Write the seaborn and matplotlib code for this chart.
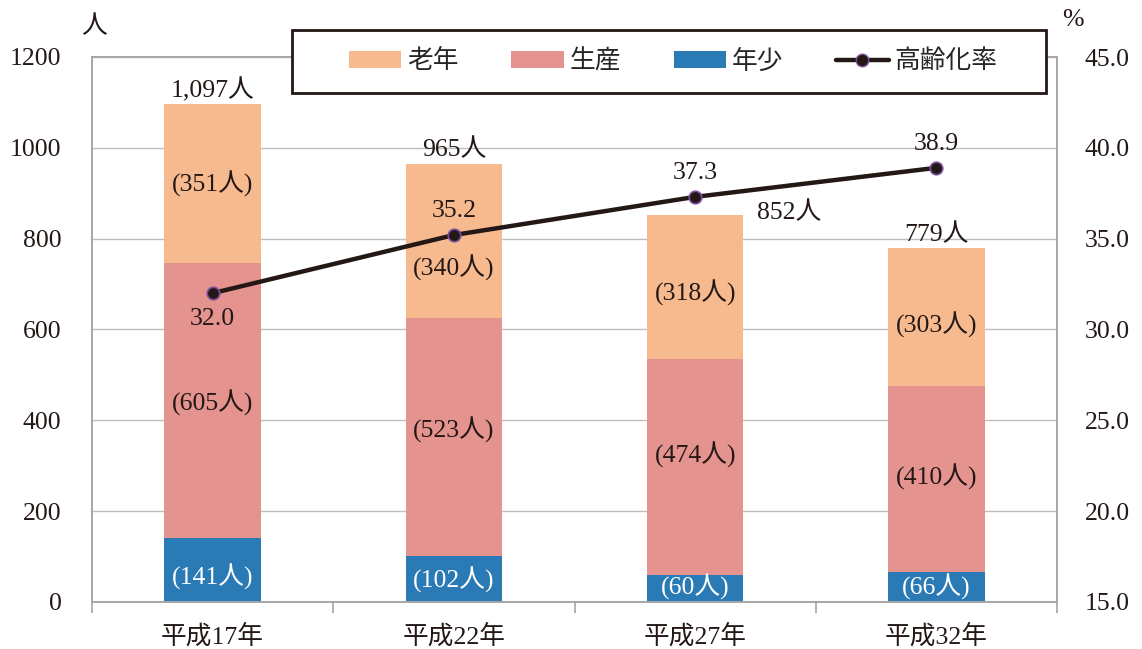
import numpy as np
import pandas as pd
import matplotlib
matplotlib.use("Agg")
import matplotlib.pyplot as plt
from matplotlib.patches import Patch, Rectangle
from matplotlib.lines import Line2D
import seaborn as sns

# Population by age group (persons) and aging rate (%)
years = ["平成17年", "平成22年", "平成27年", "平成32年"]
young = [141, 102, 60, 66]
working = [605, 523, 474, 410]
elderly = [351, 340, 318, 303]
totals = [1097, 965, 852, 779]
aging_rate = [32.0, 35.2, 37.3, 38.9]

c_elderly = "#F7BA8F"
c_working = "#E5938F"
c_young = "#2A7AB5"
c_line = "#231815"
c_edge = "#7B4F9E"
c_text = "#231815"

sns.set_theme(style="white")
FONT = ["Liberation Serif", "Noto Sans CJK JP", "DejaVu Sans"]
plt.rcParams["font.family"] = FONT
FS = 18.5
W, H = 1142, 649

fig = plt.figure(figsize=(W / 100, H / 100), dpi=100)
ax = fig.add_axes([92 / W, 1 - 602 / H, 965 / W, 545 / H])

df = pd.DataFrame({
    "year": years,
    "young": young,
    "working": working,
    "elderly": elderly,
})
df["lvl1"] = df["young"]
df["lvl2"] = df["young"] + df["working"]
df["lvl3"] = df["lvl2"] + df["elderly"]

# Stacked bars drawn as overlapping cumulative heights
for col, color in [("lvl3", c_elderly), ("lvl2", c_working), ("lvl1", c_young)]:
    sns.barplot(data=df, x="year", y=col, color=color, width=0.4,
                saturation=1, ax=ax, zorder=2, linewidth=0, edgecolor="none")

ax.set_xlim(-0.5, 3.5)
ax.set_ylim(0, 1200)
ax.set_yticks(range(0, 1201, 200))
ax.set_xlabel("")
ax.set_ylabel("")
ax.yaxis.grid(True, color="#BDBDBD", linewidth=1.0, zorder=0)
ax.set_axisbelow(True)
for s in ax.spines.values():
    s.set_color("#A6A6A6")
    s.set_linewidth(1.2)

# Category tick marks at boundaries, labels at centers
ax.set_xticks(np.arange(4))
ax.set_xticklabels(years, fontsize=FS, family=FONT, color=c_text)
ax.tick_params(axis="x", length=0, pad=16)
ax.set_xticks(np.arange(-0.5, 4.0, 1.0), minor=True)
ax.tick_params(axis="x", which="minor", length=8, width=1.2, color="#A6A6A6",
               direction="out", bottom=True)
ax.tick_params(axis="y", length=0, labelsize=FS, pad=22, labelcolor=c_text)

# Segment labels (offsets keep them clear of the line)
young_dy = [-15, -3, 3, 0]
working_dy = [-5, 15, 27, 4]
elderly_dy = [0, -60, -13, -17]
for i in range(4):
    ax.text(i, young[i] / 2 + young_dy[i], f"({young[i]}人)", ha="center",
            va="center", fontsize=FS, color="white")
    ax.text(i, young[i] + working[i] / 2 + working_dy[i], f"({working[i]}人)",
            ha="center", va="center", fontsize=FS, color=c_text)
    ax.text(i, young[i] + working[i] + elderly[i] / 2 + elderly_dy[i],
            f"({elderly[i]}人)", ha="center", va="center", fontsize=FS,
            color=c_text)

# Total labels
total_dx = [0, 0, 0.39, 0]
total_dy = [30, 30, 4, 30]
for i, t in enumerate(totals):
    ax.text(i + total_dx[i], t + total_dy[i], f"{t:,}人", ha="center",
            va="center", fontsize=FS, color=c_text)

# Aging rate line on secondary axis
ax2 = ax.twinx()
line_df = pd.DataFrame({"pos": np.arange(4), "rate": aging_rate})
sns.lineplot(data=line_df, x="pos", y="rate", ax=ax2, color=c_line,
             linewidth=3.2, marker="o", markersize=9, markerfacecolor=c_line,
             markeredgecolor=c_edge, markeredgewidth=1.2, zorder=5)
ax2.set_ylim(15, 45)
ax2.set_yticks(np.arange(15, 45.1, 5))
ax2.set_yticklabels([f"{v:.1f}" for v in np.arange(15, 45.1, 5)])
ax2.set_xlim(-0.5, 3.5)
ax2.set_xlabel("")
ax2.set_ylabel("")
ax2.tick_params(axis="y", length=0, labelsize=FS, pad=20, labelcolor=c_text)
for s in ax2.spines.values():
    s.set_color("#A6A6A6")
    s.set_linewidth(1.2)

rate_dy = [-1.4, 1.3, 1.3, 1.3]
for i, r in enumerate(aging_rate):
    ax2.text(i, r + rate_dy[i], f"{r:.1f}", ha="center", va="center",
             fontsize=FS, color=c_text)

# Unit labels
fig.text(94 / W, 1 - 26 / H, "人", ha="center", va="center",
         fontsize=FS, family=["Noto Sans CJK JP"], color=c_text)
fig.text(1073 / W, 1 - 20 / H, "%", ha="center", va="center",
         fontsize=FS, color=c_text)

# Legend: boxed frame drawn separately, entries laid out inside
frame = Rectangle((292 / W, 1 - 93 / H), (1046 - 292) / W, 63 / H,
                  transform=fig.transFigure, facecolor="white",
                  edgecolor=c_text, linewidth=2, zorder=10)
fig.patches.append(frame)

handles = [
    Patch(facecolor=c_elderly, edgecolor="none", label="老年"),
    Patch(facecolor=c_working, edgecolor="none", label="生産"),
    Patch(facecolor=c_young, edgecolor="none", label="年少"),
    Line2D([0], [0], color=c_line, linewidth=3.2, marker="o", markersize=9,
           markerfacecolor=c_line, markeredgecolor=c_edge, label="高齢化率"),
]
leg = fig.legend(handles=handles, ncol=4, loc="center",
                 bbox_to_anchor=(673 / W, 1 - 61.5 / H),
                 prop={"family": ["Noto Sans CJK JP"], "size": FS},
                 frameon=False, handlelength=2.05, handleheight=0.65,
                 columnspacing=2.05, handletextpad=0.22,
                 borderpad=0, borderaxespad=0)
leg.set_zorder(11)

fig.savefig("out.png", dpi=100)
